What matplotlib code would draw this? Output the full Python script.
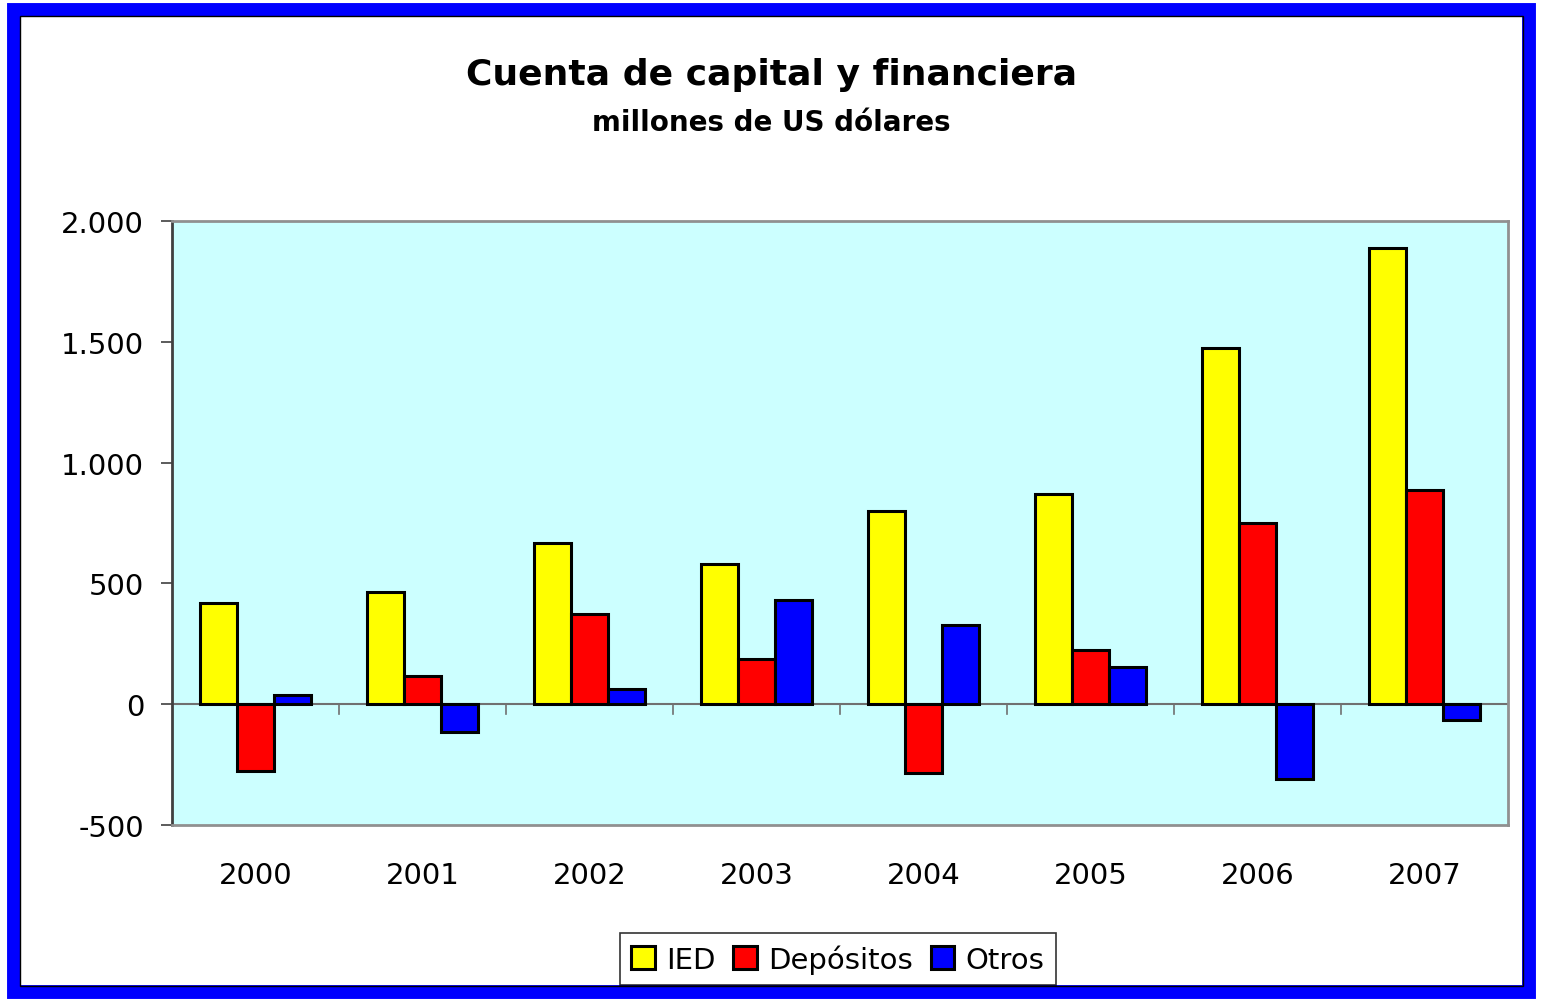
import matplotlib.pyplot as plt
import numpy as np
from matplotlib.patches import Rectangle
from matplotlib.ticker import FuncFormatter

years = ["2000", "2001", "2002", "2003", "2004", "2005", "2006", "2007"]
ied = [417, 463, 669, 579, 798, 868, 1475, 1888]
depositos = [-277, 116, 372, 186, -285, 223, 752, 888]
otros = [37, -116, 62, 430, 326, 153, -310, -66]

W, H = 1543, 1004
fig = plt.figure(figsize=(W / 100, H / 100), dpi=100)
fig.patch.set_facecolor("white")

# blue frame around the chart
fig.patches.append(Rectangle((14 / W, 11 / H), (W - 28) / W, (H - 22) / H,
                             transform=fig.transFigure, fill=False,
                             edgecolor="#0000ff", linewidth=10))
fig.patches.append(Rectangle((20 / W, 17 / H), (W - 40) / W, (H - 34) / H,
                             transform=fig.transFigure, fill=False,
                             edgecolor="black", linewidth=1))

ax = fig.add_axes([172 / W, 1 - 826 / H, (1508 - 172) / W, (826 - 222) / H])
ax.set_facecolor("#ccffff")

x = np.arange(len(years))
bw = 0.222
series = [(ied, "#ffff00", "IED"), (depositos, "#ff0000", "Depósitos"), (otros, "#0000ff", "Otros")]
for i, (vals, col, lab) in enumerate(series):
    ax.bar(x + (i - 1) * bw, vals, bw, color=col, edgecolor="black",
           linewidth=2.2, label=lab, zorder=3)

ax.set_xlim(-0.5, len(years) - 0.5)
ax.set_ylim(-500, 2000)
ax.set_yticks(range(-500, 2001, 500))
ax.yaxis.set_major_formatter(FuncFormatter(lambda v, p: f"{int(v):,}".replace(",", ".")))
ax.axhline(0, color="#707070", linewidth=1.5, zorder=2)

# category labels below the plot, separator ticks on the zero line
ax.set_xticks([])
for i, y in enumerate(years):
    ax.text(i, -707, y, ha="center", va="center", fontsize=21)
for b in np.arange(0.5, len(years) - 0.5, 1):
    ax.plot([b, b], [0, -40], color="#707070", linewidth=1.2, zorder=2)

ax.tick_params(axis="y", labelsize=21, length=8, width=1.2, color="#404040", pad=12)
for s in ["top", "right", "bottom"]:
    ax.spines[s].set_color("#909090")
    ax.spines[s].set_linewidth(2)
ax.spines["left"].set_color("#404040")
ax.spines["left"].set_linewidth(2)

fig.text(0.5, 1 - 75 / H, "Cuenta de capital y financiera", ha="center", va="center",
         fontsize=26, fontweight="bold")
fig.text(0.5, 1 - 123 / H, "millones de US dólares", ha="center", va="center",
         fontsize=20, fontweight="bold")

leg = fig.legend(loc="center", bbox_to_anchor=(838 / W, 1 - 960 / H), ncol=3,
                 fontsize=21, frameon=True, fancybox=False, edgecolor="black",
                 handlelength=0.8, handleheight=0.8, handletextpad=0.4,
                 columnspacing=0.6, borderpad=0.4)
leg.get_frame().set_linewidth(1.2)

fig.savefig("out.png", dpi=100)
